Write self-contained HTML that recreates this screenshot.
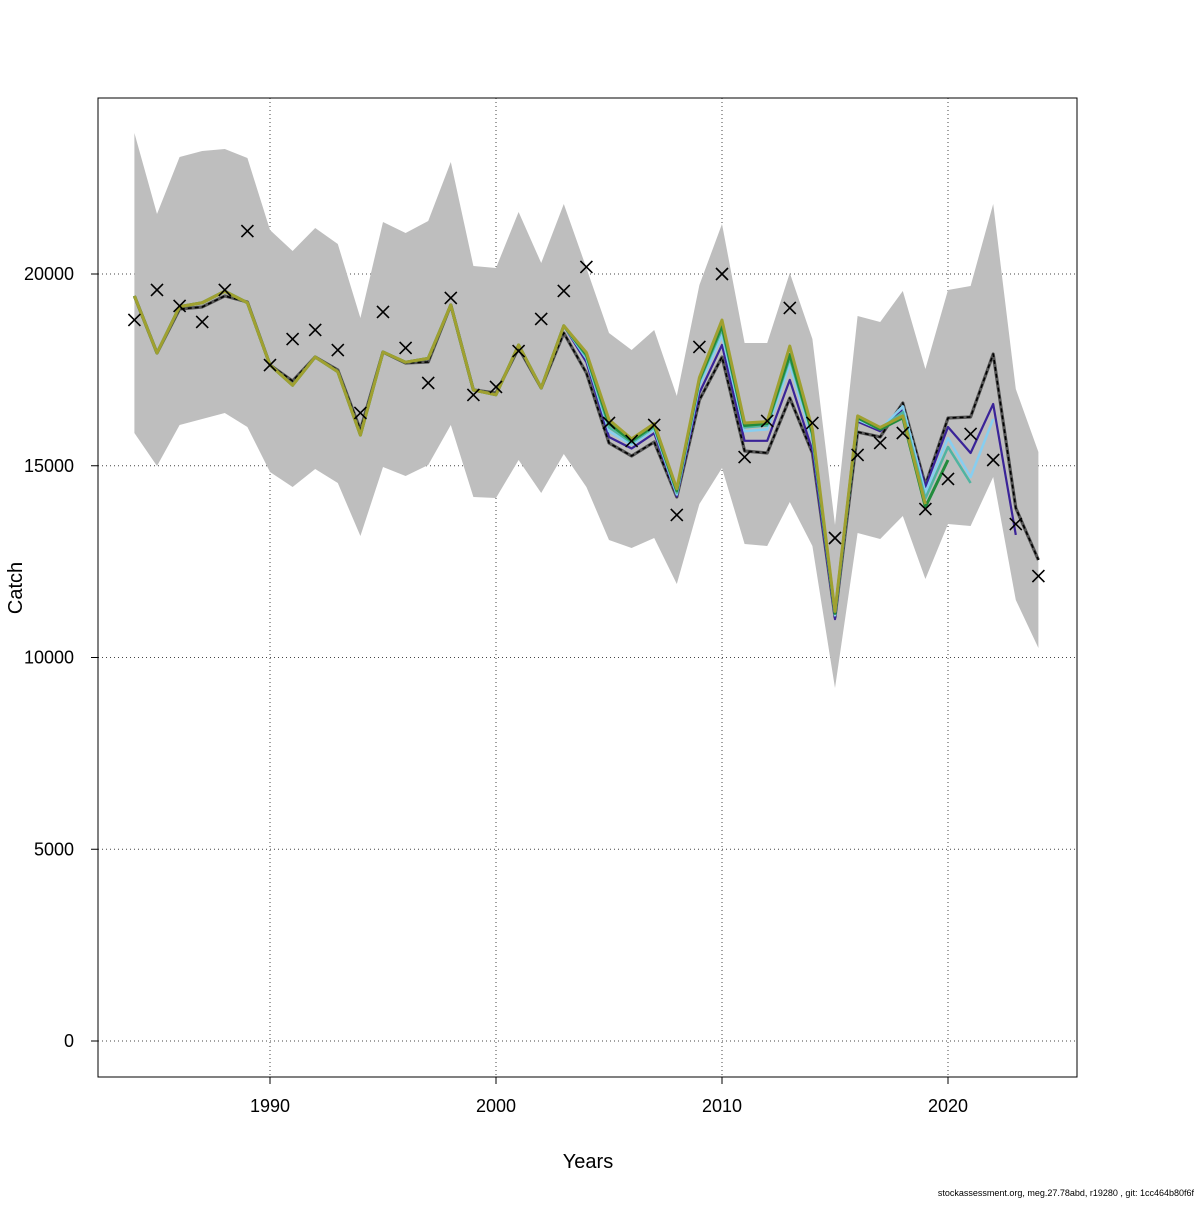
<!DOCTYPE html>
<html><head><meta charset="utf-8"><style>
body{margin:0;background:#fff;}
svg text{font-family:"Liberation Sans",sans-serif;}
</style></head><body>
<svg id="chart" width="1200" height="1200" xmlns="http://www.w3.org/2000/svg">
<rect width="1200" height="1200" fill="#fff"/>
<g id="grid"></g>
<g id="band"></g>
<g id="lines"></g>
<g id="pts"></g>
<g id="axes"></g>
<rect x="98" y="98" width="979" height="979" fill="none" stroke="#000" stroke-width="1"/>
<text x="588" y="1168" font-size="20" text-anchor="middle">Years</text>
<text transform="translate(22,588) rotate(-90)" font-size="20" text-anchor="middle">Catch</text>
<text x="1194" y="1196" font-size="9" text-anchor="end">stockassessment.org, meg.27.78abd, r19280 , git: 1cc464b80f6f</text>
</svg>
<script>
const years=[];for(let y=1984;y<=2024;y++)years.push(y);
const upper=[23676,21564,23050,23207,23259,23025,21147,20600,21200,20782,18853,21356,21069,21382,22920,20209,20157,21617,20287,21825,20157,18462,18018,18540,16819,19713,21304,18201,18201,20026,18305,13455,18905,18748,19557,17523,19583,19687,21825,17001,15358];
const lower=[15854,14993,16063,16219,16376,16010,14837,14446,14915,14550,13168,14967,14733,15020,16063,14185,14159,15150,14289,15306,14446,13064,12855,13116,11917,14003,14941,12959,12907,14055,12907,9205,13246,13090,13690,12047,13481,13429,14707,11500,10248];
const observed=[18801,19583,19166,18749,19583,21121,17627,18305,18540,18018,16376,19010,18071,17158,19375,16845,17054,17992,18827,19557,20183,16115,15646,16063,13716,18097,20000,15228,16167,19114,16115,13116,15281,15594,15854,13872,14655,15828,15150,13481,12125];
const mainFit=[19427,17940,19088,19140,19427,19270,17627,17210,17836,17497,15933,17966,17679,17705,19192,16975,16897,18071,17028,18462,17419,15594,15255,15620,14185,16715,17836,15385,15333,16767,15333,11056,15880,15750,16637,14498,16245,16272,17914,13899,12543];
const early=[19427,17940,19150,19250,19550,19250,17627,17100,17836,17450,15800,17966,17700,17800,19192,16975,16850,18150,17028,18650];
const peel2023=early.concat([17700,15750,15450,15850,14200,16900,18150,15650,15650,17240,15400,11000,16150,15900,16450,14450,16010,15333,16610,13195]);
const peel2022=early.concat([17800,15900,15550,15950,14250,17100,18400,15900,15950,17650,15700,11100,16200,15950,16550,14300,15724,14707,16220]);
const peel2021=early.concat([17850,16000,15600,16000,14300,17200,18550,16000,16050,17800,15800,11150,16250,15950,16400,14150,15490,14550]);
const peel2020=early.concat([17900,16100,15650,16050,14350,17250,18650,16050,16100,17900,15850,11150,16250,15950,16250,13925,15150]);
const peel2019=early.concat([17950,16200,15700,16100,14400,17300,18800,16115,16150,18120,15950,11200,16300,16000,16300,14000]);
const xTicks=[1990,2000,2010,2020];
const yTicks=[0,5000,10000,15000,20000];
const NS='http://www.w3.org/2000/svg';
const X=y=>270+(y-1990)*22.6;
const Y=v=>1041-v*0.03835;
function mk(t,a,p){const e=document.createElementNS(NS,t);for(const k in a)e.setAttribute(k,a[k]);p.appendChild(e);return e;}
const grid=document.getElementById('grid'),axes=document.getElementById('axes');
xTicks.forEach(t=>{
 const l=mk('line',{x1:X(t),x2:X(t),y1:98,y2:1077,stroke:'#444','stroke-dasharray':'1,3'},grid);
 
 const k=mk('line',{x1:X(t),x2:X(t),y1:1077,y2:1084,stroke:'#000'},axes);
 
 const tx=mk('text',{x:X(t),y:1112,'font-size':18,'text-anchor':'middle'},axes);tx.textContent=t;
 
});
yTicks.forEach(t=>{
 const l=mk('line',{x1:98,x2:1077,y1:Y(t),y2:Y(t),stroke:'#444','stroke-dasharray':'1,3'},grid);
 
 const k=mk('line',{x1:91,x2:98,y1:Y(t),y2:Y(t),stroke:'#000'},axes);
 
 const tx=mk('text',{x:74,y:Y(t)+6,'font-size':18,'text-anchor':'end'},axes);tx.textContent=t;
 
});
const band=document.getElementById('band');
let d=years.map((y,i)=>(i?'L':'M')+X(y)+','+Y(upper[i])).join(' ');
for(let i=years.length-1;i>=0;i--)d+=' L'+X(years[i])+','+Y(lower[i]);
const bp=mk('path',{d:d+' Z',fill:'#bebebe',stroke:'none'},band);

const lines=document.getElementById('lines');
function line(vals,attrs,name){
 const p=mk('path',Object.assign({d:vals.map((v,i)=>(i?'L':'M')+X(years[i])+','+Y(v)).join(' '),fill:'none','stroke-linejoin':'round'},attrs),lines);
 
}
line(mainFit,{stroke:'#555','stroke-width':3.2},'main-fit-line');
line(mainFit,{stroke:'#000','stroke-width':1.6,'stroke-dasharray':'4,3'},'main-fit-dash');
line(peel2023,{stroke:'#3a2398','stroke-width':2.2},'retro-2023-line');
line(peel2022,{stroke:'#87cef0','stroke-width':2.5},'retro-2022-line');
line(peel2021,{stroke:'#50b4a0','stroke-width':2.5},'retro-2021-line');
line(peel2020,{stroke:'#228b3c','stroke-width':3},'retro-2020-line');
line(peel2019,{stroke:'#a0a030','stroke-width':3},'retro-2019-line');
const pts=document.getElementById('pts');
observed.forEach((v,i)=>{
 const x=X(years[i]),y=Y(v),s=6;
 const p=mk('path',{d:`M${x-s},${y-s}L${x+s},${y+s}M${x-s},${y+s}L${x+s},${y-s}`,stroke:'#000','stroke-width':1.6},pts);
 
});
</script>
</body></html>
